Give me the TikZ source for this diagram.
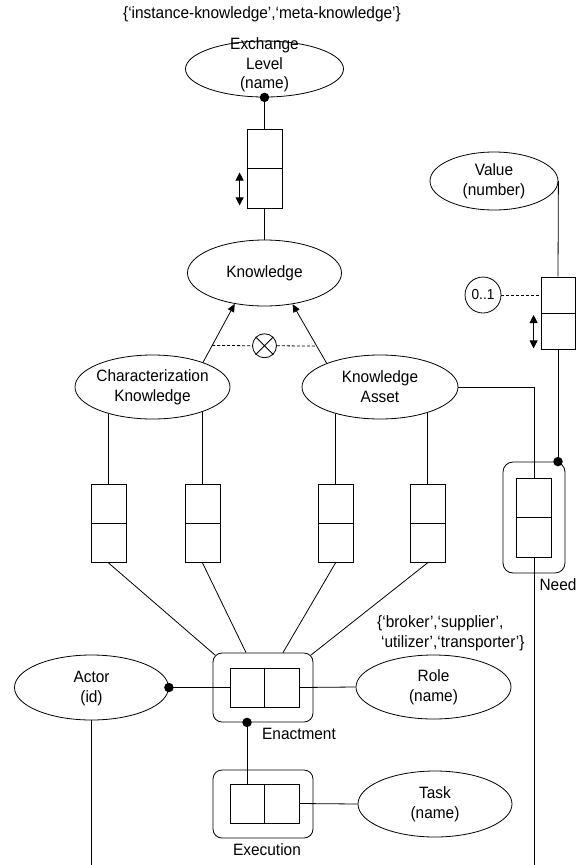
\documentclass[tikz,border=0pt]{standalone}
\usepackage{fontspec}
\setmainfont{Liberation Sans}[FakeStretch=0.94]
\usetikzlibrary{arrows.meta,shapes.geometric,calc}

\begin{document}
\begin{tikzpicture}[x=1pt,y=-1pt,
  every node/.style={font=\fontsize{16.4}{20}\selectfont},
  line/.style={line width=0.8pt},
  ent/.style={draw, line width=0.8pt, ellipse, inner sep=0pt},
  lbl/.style={align=center, inner sep=0pt},
  rolev/.style={draw, line width=0.8pt, minimum width=35pt, minimum height=79pt, inner sep=0pt},
  roleh/.style={draw, line width=0.8pt, minimum width=69pt, minimum height=39pt, inner sep=0pt},
  nest/.style={draw, line width=0.8pt, rounded corners=9pt, inner sep=0pt},
  dot/.style={circle, fill, inner sep=0pt, minimum size=9.5pt},
  uniq/.style={line width=0.8pt, {Triangle[length=8pt,width=8pt]}-{Triangle[length=8pt,width=8pt]}},
  sub/.style={line width=0.8pt, -{Triangle[length=8pt,width=7pt]}},
  excl/.style={line width=0.8pt, dash pattern=on 3pt off 2pt},
]
\path[use as bounding box, fill=white] (0,0) rectangle (585,865);

% Exchange level value type and its role pair
\node[lbl] (dom1) at (262,14) {\{‘instance-knowledge’,‘meta-knowledge’\}};
\node[ent, minimum width=158pt, minimum height=56pt] (exl) at (264.5,69) {};
\node[lbl, font=\fontsize{16.4}{19.5}\selectfont] at (264.5,65) {Exchange\\Level\\(name)};
\node[rolev] (eb) at (264.5,168.5) {};
\draw[line] (eb.west) -- (eb.east);
\draw[line] (exl.south) -- (eb.north);
\node[dot] at (exl.south) {};
\draw[uniq] ($(eb.south west)+(-7,-3)$) -- ($(eb.west)+(-7,4)$);

% Knowledge and its subtypes
\node[ent, minimum width=154pt, minimum height=66pt] (kn) at (264.5,273) {};
\node[lbl] at (kn) {Knowledge};
\draw[line] (eb.south) -- (kn.north);

\node[ent, minimum width=155pt, minimum height=64pt] (ck) at (152.5,387) {};
\node[lbl] at (ck) {Characterization\\Knowledge};
\node[ent, minimum width=156pt, minimum height=64pt] (ka) at (380,387) {};
\node[lbl] at (ka) {Knowledge\\Asset};

\draw[sub] (ck.26) -- (kn.226);
\draw[sub] (ka.156) -- (kn.312);

% exclusion constraint between the subtypes
\coordinate (xl) at ($(ck.26)!0.29!(kn.226)$);
\coordinate (xr) at ($(ka.156)!0.29!(kn.312)$);
\node[circle, draw, line width=0.8pt, minimum size=24pt, inner sep=0pt] (xo) at ($(xl)!0.5!(xr)$) {};
\draw[line] (xo.45) -- (xo.225) (xo.135) -- (xo.315);
\draw[excl] (xl) -- (xo.west);
\draw[excl] (xo.east) -- (xr);

% role boxes between subtypes and the enactment
\foreach \n/\x in {ba/108.5, bb/202.5, bc/335.5, bd/427.5}{
  \node[rolev, minimum height=78pt] (\n) at (\x,523.5) {};
  \draw[line] (\n.west) -- (\n.east);
}
\draw[line] (ba.north) -- (ba.north |- ck.211);
\draw[line] (bb.north) -- (bb.north |- ck.334);
\draw[line] (bc.north) -- (bc.north |- ka.211);
\draw[line] (bd.north) -- (bd.north |- ka.332);

% Enactment
\node[nest, minimum width=100pt, minimum height=69pt] (eno) at (263,687.5) {};
\node[roleh] (eni) at (264.5,687.5) {};
\draw[line] (eni.north) -- (eni.south);
\node[lbl] at (299,734) {Enactment};

\draw[line] (ba.south) -- ($(eno.north west)+(2.5,2.5)$);
\draw[line] (bb.south) -- ($(eno.north)+(-17,0)$);
\draw[line] (bc.south) -- ($(eno.north)+(20,0)$);
\draw[line] (bd.south) -- ($(eno.north east)+(-2.5,2.5)$);

% Actor and Role
\node[ent, minimum width=154pt, minimum height=65pt] (act) at (91.5,687.5) {};
\node[lbl] at (91.5,688.5) {Actor\\(id)};
\draw[line] (act.east) -- (eni.west);
\node[dot] at (act.east) {};
\coordinate (aend) at (91.5,865);
\draw[line] (act.south) -- (aend);

\node[ent, minimum width=155pt, minimum height=64pt] (rol) at (433.5,687) {};
\node[lbl] at (433.5,687.5) {Role\\(name)};
\draw[line] (eni.east) -- (rol.west);
\node[lbl, align=left, anchor=west] at (377,633) {\{‘broker’,‘supplier’,\\\hspace*{4pt}‘utilizer’,‘transporter’\}};

% Execution and Task
\node[nest, minimum width=100pt, minimum height=68pt] (exo) at (263,804) {};
\node[roleh] (exi) at (264.5,803.5) {};
\draw[line] (exi.north) -- (exi.south);
\node[lbl] at (267,850) {Execution};
\coordinate (ed) at ($(eno.south)+(-16,0)$);
\draw[line] (ed) -- (ed |- exi.north);
\node[dot] at (ed) {};

\node[ent, minimum width=154pt, minimum height=66pt] (tsk) at (435,804) {};
\node[lbl] at (435,804) {Task\\(name)};
\draw[line] (exi.east) -- (tsk.west);

% Need
\node[nest, rounded corners=10pt, minimum width=62pt, minimum height=111pt] (ndo) at (534,517.5) {};
\node[rolev] (ndi) at (534,517.5) {};
\draw[line] (ndi.west) -- (ndi.east);
\node[lbl] at (558,585) {Need};
\draw[line] (ka.east) -| (ndi.north);
\coordinate (nend) at (534,865);
\draw[line] (ndi.south) -- (nend);

% Value
\node[ent, minimum width=128pt, minimum height=58pt] (val) at (494,181) {};
\node[lbl] at (494,181) {Value\\(number)};
\node[rolev, minimum width=34pt, minimum height=72pt] (vb) at (558,313) {};
\draw[line] (vb.west) -- (vb.east);
\draw[line] (val.east) -- (vb.north);
\draw[uniq] ($(vb.south west)+(-7,-1)$) -- ($(vb.west)+(-7,2)$);
\node[circle, draw, line width=0.8pt, minimum size=36pt, inner sep=0pt, font=\fontsize{14.5}{16}\selectfont] (occ) at (483,295) {0..1};
\draw[excl] (occ.east) -- (occ -| vb.west);
\coordinate (nd) at (ndo.north -| vb.south);
\draw[line] (vb.south) -- (nd);
\node[dot] at (nd) {};

\end{tikzpicture}
\end{document}
